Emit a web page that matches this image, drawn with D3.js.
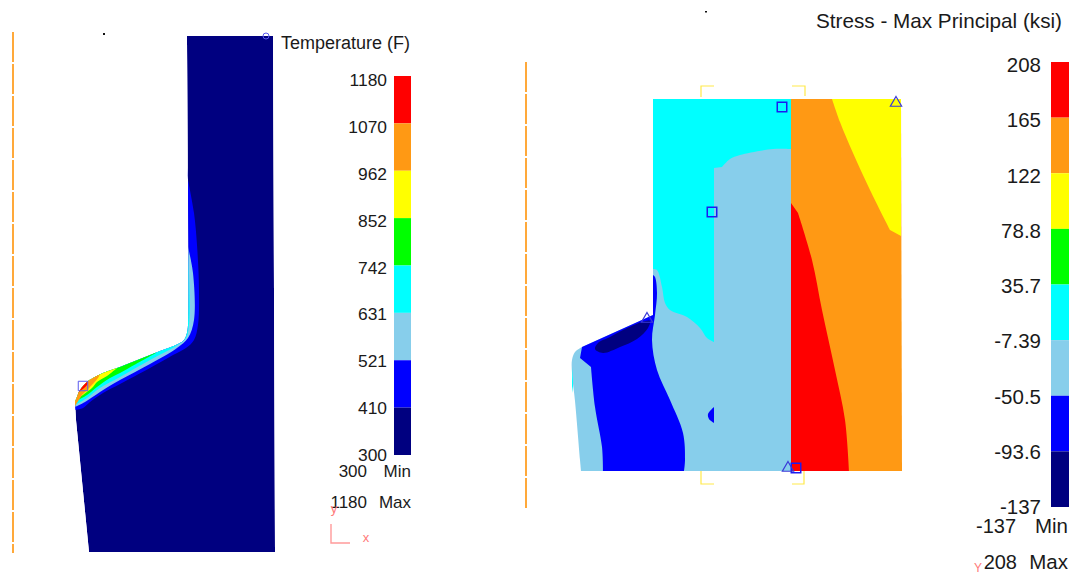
<!DOCTYPE html>
<html>
<head>
<meta charset="utf-8">
<script src="https://cdn.jsdelivr.net/npm/d3@7"></script>
<style>
  html, body { margin: 0; padding: 0; background: #fff; }
  svg { display: block; }
  text { font-family: "Liberation Sans", Arial, sans-serif; fill: #1a1a1a; }
</style>
</head>
<body>
<svg width="1072" height="575"></svg>
<script>
// legend levels
const tempLevels = ['1180', '1070', '962', '852', '742', '631', '521', '410', '300'];
const stressLevels = ['208', '165', '122', '78.8', '35.7', '-7.39', '-50.5', '-93.6', '-137'];
const bandColors = ['#ff0000', '#ff9914', '#ffff00', '#00ff00', '#00ffff', '#87ceeb', '#0000ff', '#000080'];

// left part, contour outlines in part units (origin = bottom left of the part)
const tempBody = [[111,516],[197,516],[199,0],[13,0],[0,132],[-1,150],[1,155],[4,162],[11,170],[17,174],[27,179],[44,185],[64,193],[84,201],[102,208],[108,212],[111,219],[112,227],[112,372]];
const tempBodyCorners = [0, 1, 2, 3, 4, 5];
const tempBlue = [[-1,142],[7,144],[14,150],[27,159],[44,168],[74,184],[97,197],[110,204],[118,212],[122,227],[123,262],[121,307],[118,339],[112,372]];
const tempSky = [[-1,145],[9,150],[24,160],[44,172],[74,188],[101,204],[112,214],[118,232],[117,279],[112,305]];
const tempCyan = [[-1,147],[11,154],[24,164],[44,175],[74,192],[100,206],[110,214],[113,227],[113,280],[112,300]];
const tempGreen = [[2,152],[11,157],[21,165],[34,174],[44,179],[60,188],[80,199]];
const tempYellow = [[4,155],[16,164],[21,170],[31,176],[41,184]];
const tempOrange = [[6,157],[14,165],[22,174],[24,178]];
const tempRed = [[3,160],[11,167],[12,171]];
const tempOutside = [[100,520],[-30,520],[-30,100]];

// right part
const stressSky = [[0,0],[210,0],[210,372],[72,372],[72,156],[1,124],[-6,119],[-9,111],[-9,98],[-6,70],[-1,11]];
const stressSkyCorners = [0, 1, 2, 3, 4, 5];
const stressCyan = [[72,372],[210,372],[210,322],[192,322],[159,316],[149,312],[141,304],[133,303],[133,129],[126,133],[119,143],[106,154],[89,161],[84,168],[81,184],[76,201],[72,202]];
const stressCyanCorners = [0, 1, 2, 6, 7, 8, 16];
const stressSliver = [[-9,104],[-9,85],[-8,78],[-8,90]];
const stressBlue = [[72,196],[74,194],[76,178],[74,156],[71,131],[76,101],[89,71],[102,38],[104,11],[103,0],[22,0],[21,24],[14,64],[10,104],[-1,113],[1,124],[72,156],[72,191]];
const stressBlueCorners = [0, 9, 10, 13, 14, 15, 16];
const stressNavy = [[14,122],[17,128],[29,134],[42,141],[61,149],[69,150],[67,143],[56,132],[39,124],[22,118]];
const stressLens = [[133,64],[127,57],[128,52],[133,48]];
const stressLensCorners = [0, 3];
const stressOrange = [[210,372],[320,372],[321,0],[210,0]];
const stressOrangeCorners = [0, 1, 2, 3];
const stressYellow = [[251,372],[259,349],[272,318],[289,281],[309,241],[320,235],[320,372]];
const stressYellowCorners = [0, 4, 5, 6];
const stressRed = [[210,268],[217,258],[231,211],[241,161],[254,101],[264,51],[268,0],[210,0]];
const stressRedCorners = [0, 1, 6, 7];

// probes and frame bits
const tempSquares = [[7,166]];
const tempCircles = [[190,516]];
const stressSquares = [[201,364],[131,259],[215,3]];
const stressTriangles = [[315,368],[207,3],[66,152]];
const brackets = [
  [[120,374],[120,385],[133,385]],
  [[211,385],[224,385],[224,375]],
  [[120,0],[120,-13],[133,-13]],
  [[211,-13],[223,-13],[223,0]]
];
const tempEdge = [[-63,520],[-63,-1]];
const stressEdge = [[-55,409],[-55,-37]];
const triad = [[255,28],[255,9],[274,9]];

const svg = d3.select('svg');

const xTemp = d3.scaleLinear().domain([0, 199]).range([76, 275]);
const yTemp = d3.scaleLinear().domain([0, 516]).range([552, 36]);
const xStress = d3.scaleLinear().domain([0, 320]).range([581, 901]);
const yStress = d3.scaleLinear().domain([0, 372]).range([471, 99]);

const lineTemp = d3.line().x(d => xTemp(d[0])).y(d => yTemp(d[1]));
const lineStress = d3.line().x(d => xStress(d[0])).y(d => yStress(d[1]));
const curveTemp = d3.line().x(d => xTemp(d[0])).y(d => yTemp(d[1])).curve(d3.curveCatmullRom);
const curveStress = d3.line().x(d => xStress(d[0])).y(d => yStress(d[1])).curve(d3.curveCatmullRom);
const closedStress = d3.line().x(d => xStress(d[0])).y(d => yStress(d[1])).curve(d3.curveCatmullRomClosed);

// closed outline, smooth between corners and sharp at them
function outline(curve, pts, corners) {
  let d = '';
  corners.forEach((c, i) => {
    const next = corners[i + 1];
    const run = next === undefined ? pts.slice(c).concat([pts[corners[0]]]) : pts.slice(c, next + 1);
    const piece = curve(run);
    d += i === 0 ? piece : 'L' + piece.slice(1);
  });
  return d + 'Z';
}

// the left view is a soft upscale in the original
svg.append('filter').attr('id', 'soft')
  .append('feGaussianBlur').attr('stdDeviation', 0.45);

// left part: layers are clipped to the body, so they only need their inner edge
const bodyPath = outline(curveTemp, tempBody, tempBodyCorners);
svg.append('clipPath').attr('id', 'body')
  .append('path').attr('d', bodyPath);

const temp = svg.append('g').attr('filter', 'url(#soft)')
  .append('g').attr('clip-path', 'url(#body)');
temp.append('path').attr('d', bodyPath).attr('fill', bandColors[7]);
const tempLayers = [
  [tempBlue, bandColors[6]],
  [tempSky, bandColors[5]],
  [tempCyan, bandColors[4]],
  [tempGreen, bandColors[3]],
  [tempYellow, bandColors[2]],
  [tempOrange, bandColors[1]],
  [tempRed, bandColors[0]]
];
temp.selectAll('path.layer')
  .data(tempLayers)
  .join('path')
  .attr('class', 'layer')
  .attr('d', d => curveTemp(d[0]) + 'L' + lineTemp(tempOutside).slice(1) + 'Z')
  .attr('fill', d => d[1]);

// right part
const stressLayers = [
  [outline(curveStress, stressSky, stressSkyCorners), bandColors[5]],
  [outline(curveStress, stressCyan, stressCyanCorners), bandColors[4]],
  [lineStress(stressSliver) + 'Z', bandColors[4]],
  [outline(curveStress, stressBlue, stressBlueCorners), bandColors[6]],
  [closedStress(stressNavy), bandColors[7]],
  [outline(curveStress, stressLens, stressLensCorners), bandColors[6]],
  [outline(lineStress, stressOrange, stressOrangeCorners), bandColors[1]],
  [outline(curveStress, stressYellow, stressYellowCorners), bandColors[2]],
  [outline(curveStress, stressRed, stressRedCorners), bandColors[0]]
];
svg.append('g').selectAll('path')
  .data(stressLayers)
  .join('path')
  .attr('d', d => d[0])
  .attr('fill', d => d[1]);

// yellow corner brackets
svg.append('g').selectAll('path')
  .data(brackets)
  .join('path')
  .attr('d', lineStress)
  .attr('fill', 'none')
  .attr('stroke', '#ffe94a')
  .attr('stroke-width', 1.2);

// orange dashed edges
[[lineTemp, tempEdge], [lineStress, stressEdge]].forEach(e => {
  svg.append('path')
    .attr('d', e[0](e[1]))
    .attr('fill', 'none')
    .attr('stroke', '#ffa93a')
    .attr('stroke-width', 2)
    .attr('stroke-dasharray', '30 2');
});

// probes
const square = d3.symbol().type(d3.symbolSquare).size(90);
const triangle = d3.symbol().type(d3.symbolTriangle).size(55);

svg.append('g').selectAll('path')
  .data(tempSquares)
  .join('path')
  .attr('transform', d => `translate(${xTemp(d[0])},${yTemp(d[1])})`)
  .attr('d', square)
  .attr('fill', 'none')
  .attr('stroke', '#5a5aee')
  .attr('stroke-width', 1);

svg.append('g').selectAll('circle')
  .data(tempCircles)
  .join('circle')
  .attr('cx', d => xTemp(d[0]))
  .attr('cy', d => yTemp(d[1]))
  .attr('r', 3)
  .attr('fill', 'none')
  .attr('stroke', '#5a5aee');

svg.append('g').selectAll('path')
  .data(stressSquares)
  .join('path')
  .attr('transform', d => `translate(${xStress(d[0])},${yStress(d[1])})`)
  .attr('d', square)
  .attr('fill', 'none')
  .attr('stroke', '#1c1cf0')
  .attr('stroke-width', 1.5);

svg.append('g').selectAll('path')
  .data(stressTriangles)
  .join('path')
  .attr('transform', d => `translate(${xStress(d[0])},${yStress(d[1])})`)
  .attr('d', triangle)
  .attr('fill', 'none')
  .attr('stroke', '#3a3ad8')
  .attr('stroke-width', 1.2);

// specks at the top of each view
svg.append('rect').attr('x', xTemp(27)).attr('y', yTemp(519)).attr('width', 2).attr('height', 2).attr('fill', '#111');
svg.append('rect').attr('x', xStress(124)).attr('y', yStress(460)).attr('width', 2).attr('height', 1.5).attr('fill', '#111');

// colour bars
function colorBar(levels, x, bandWidth, top, bottom, labelY0, labelY1, labelX, fontSize) {
  const bands = d3.scaleBand().domain(bandColors).range([top, bottom]);
  svg.append('g').selectAll('rect')
    .data(bandColors)
    .join('rect')
    .attr('x', x)
    .attr('y', d => bands(d))
    .attr('width', bandWidth)
    .attr('height', bands.bandwidth())
    .attr('fill', d => d);

  const labels = d3.scalePoint().domain(levels).range([labelY0, labelY1]);
  const axis = svg.append('g')
    .attr('transform', `translate(${labelX},0)`)
    .call(d3.axisLeft(labels).tickSize(0).tickPadding(0));
  axis.select('.domain').remove();
  axis.attr('font-family', null).attr('font-size', fontSize);
  axis.selectAll('text').attr('fill', null);
}

colorBar(tempLevels, 394, 17, 76, 455, 80, 455, 387, 17.4);
colorBar(stressLevels, 1051, 18, 62, 507, 65, 507, 1041, 20.5);

// titles and min / max notes
const notes = [
  ['Temperature (F)', 281, 49, 18, 'start'],
  ['300', 367, 477, 17, 'end'],
  ['Min', 411, 477, 17, 'end'],
  ['1180', 367, 508, 17, 'end'],
  ['Max', 411, 508, 17, 'end'],
  ['Stress - Max Principal (ksi)', 816, 28, 20.7, 'start'],
  ['-137', 1016, 533, 20, 'end'],
  ['Min', 1068, 533, 20.5, 'end'],
  ['208', 1017, 569, 20, 'end'],
  ['Max', 1068, 569, 20.5, 'end']
];
svg.append('g').selectAll('text')
  .data(notes)
  .join('text')
  .attr('x', d => d[1])
  .attr('y', d => d[2])
  .attr('font-size', d => d[3])
  .attr('text-anchor', d => d[4])
  .text(d => d[0]);

// triad, pale red
svg.append('path')
  .attr('d', lineTemp(triad))
  .attr('fill', 'none')
  .attr('stroke', '#ff9a9a')
  .attr('stroke-width', 1.4);

const triadLabels = [['y', 334, 513, 13], ['x', 366, 542, 13], ['Y', 978, 572, 12]];
svg.append('g').selectAll('text')
  .data(triadLabels)
  .join('text')
  .attr('x', d => d[1])
  .attr('y', d => d[2])
  .attr('font-size', d => d[3])
  .attr('text-anchor', 'middle')
  .style('fill', '#ff7a7a')
  .text(d => d[0]);
</script>
</body>
</html>
